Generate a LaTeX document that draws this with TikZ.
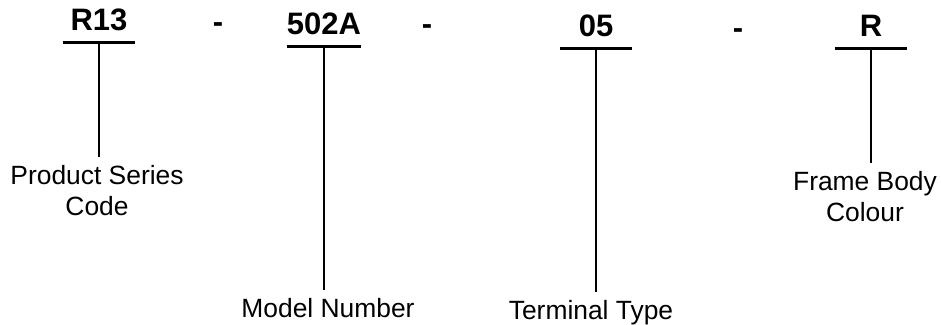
\documentclass[tikz,border=0pt]{standalone}
\usepackage{fontspec}
\setmainfont{Liberation Sans}
\usetikzlibrary{positioning}
\tikzset{
  codetxt/.style={anchor=south, font=\fontsize{15.5}{18}\selectfont\bfseries,
    inner xsep=0pt, inner ysep=6pt, minimum width=36pt},
  dashtxt/.style={anchor=base, font=\fontsize{15.5}{18}\selectfont\bfseries, inner sep=0pt},
  desc/.style={anchor=north, align=center, font=\fontsize{13.2}{15.5}\selectfont, inner sep=4pt},
  bar/.style={line width=1.5pt},
  stem/.style={line width=1.25pt}
}

\begin{document}
\begin{tikzpicture}[x=0.5pt, y=-0.5pt]
  \useasboundingbox (0,0) rectangle (941,325);

  % code parts with the bar under them: {x/y/text/name}
  \foreach \x/\y/\txt/\n in {
      99/43/R13/a, 324/47/502A/b,
      596/49/05/c, 871/49/R/d
  } {
    \node[codetxt] (code\n) at (\x,\y) {\txt};
    \draw[bar] (code\n.south west) -- (code\n.south east);
  }

  % separating dashes
  \foreach \x/\y/\n in {218/33/1, 427/35/2, 738/39/3} {
    \node[dashtxt] (dash\n) at (\x,\y) {-};
  }

  % descriptions hanging from the bars
  \foreach \x/\y/\txt/\n in {
      97/157/{Product Series\\Code}/a,
      328/290/{Model Number}/b,
      591/292/{Terminal Type}/c,
      865/163/{Frame Body\\Colour}/d
  } {
    \node[desc] (lbl\n) at (\x,\y) {\txt};
    \draw[stem] (code\n.south) -- (code\n.south |- lbl\n.north);
  }

\end{tikzpicture}
\end{document}
